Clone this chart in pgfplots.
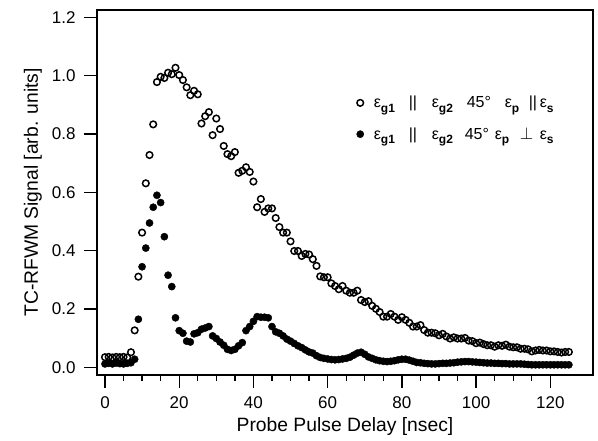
\documentclass[border=0pt]{standalone}
\usepackage{fontspec}
\setmainfont{Liberation Sans}
\usepackage{pgfplots}
\pgfplotsset{compat=1.18}
\usepackage{pgfplotstable}
\pgfplotstableread{
t v
0 0.035
1 0.036
2 0.034
3 0.036
4 0.035
5 0.036
6 0.034
7 0.052
8 0.127
9 0.311
10 0.462
11 0.631
12 0.728
13 0.833
14 0.978
15 0.996
16 0.992
17 1.010
18 1.005
19 1.027
20 1.002
21 0.985
22 0.960
23 0.933
24 0.948
25 0.936
26 0.836
27 0.861
28 0.875
29 0.796
30 0.853
31 0.817
32 0.759
33 0.731
34 0.724
35 0.738
36 0.667
37 0.674
38 0.686
39 0.670
40 0.637
41 0.549
42 0.577
43 0.533
44 0.545
45 0.545
46 0.512
47 0.481
48 0.462
49 0.462
50 0.432
51 0.399
52 0.399
53 0.382
54 0.389
55 0.387
56 0.371
57 0.348
58 0.312
59 0.309
60 0.309
61 0.288
62 0.279
63 0.268
64 0.279
65 0.263
66 0.256
67 0.256
68 0.263
69 0.231
70 0.224
71 0.227
72 0.211
73 0.201
74 0.190
75 0.174
76 0.174
77 0.183
78 0.174
79 0.163
80 0.172
81 0.163
82 0.153
83 0.140
84 0.140
85 0.145
86 0.128
87 0.119
88 0.119
89 0.117
90 0.110
91 0.115
92 0.106
93 0.099
94 0.103
95 0.099
96 0.099
97 0.101
98 0.092
99 0.090
100 0.083
101 0.085
102 0.080
103 0.076
104 0.076
105 0.071
106 0.076
107 0.074
108 0.078
109 0.071
110 0.069
111 0.069
112 0.064
113 0.064
114 0.062
115 0.055
116 0.058
117 0.060
118 0.058
119 0.058
120 0.055
121 0.055
122 0.053
123 0.051
124 0.053
125 0.053
}\parallel
\pgfplotstableread{
t v
0 0.012
1 0.014
2 0.012
3 0.015
4 0.013
5 0.012
6 0.014
7 0.016
8 0.028
9 0.165
10 0.345
11 0.409
12 0.495
13 0.549
14 0.590
15 0.565
16 0.448
17 0.316
18 0.277
19 0.170
20 0.126
21 0.117
22 0.090
23 0.087
24 0.115
25 0.119
26 0.131
27 0.135
28 0.140
29 0.108
30 0.099
31 0.087
32 0.076
33 0.062
34 0.058
35 0.062
36 0.074
37 0.085
38 0.126
39 0.140
40 0.158
41 0.174
42 0.172
43 0.172
44 0.170
45 0.140
46 0.122
47 0.117
48 0.108
49 0.097
50 0.090
51 0.082
52 0.074
53 0.068
54 0.060
55 0.053
56 0.049
57 0.040
58 0.034
59 0.031
60 0.029
61 0.027
62 0.026
63 0.027
64 0.029
65 0.031
66 0.035
67 0.042
68 0.049
69 0.052
70 0.045
71 0.036
72 0.031
73 0.026
74 0.023
75 0.021
76 0.020
77 0.021
78 0.023
79 0.026
80 0.028
81 0.028
82 0.025
83 0.021
84 0.017
85 0.016
86 0.014
87 0.013
88 0.012
89 0.012
90 0.013
91 0.014
92 0.014
93 0.015
94 0.016
95 0.018
96 0.019
97 0.020
98 0.020
99 0.019
100 0.018
101 0.017
102 0.016
103 0.015
104 0.015
105 0.014
106 0.014
107 0.013
108 0.013
109 0.012
110 0.012
111 0.012
112 0.012
113 0.011
114 0.010
115 0.009
116 0.009
117 0.009
118 0.009
119 0.009
120 0.009
121 0.009
122 0.009
123 0.009
124 0.009
125 0.009
}\perpendicular
\newcommand{\eps}[1]{ε\raisebox{-0.5ex}{\fontsize{12}{13}\selectfont\bfseries #1}}
\begin{document}
\begin{tikzpicture}
\begin{axis}[
  name=ax,
  scale only axis,
  width=496pt, height=365pt,
  xmin=-2.15, xmax=131.5,
  ymin=-0.026, ymax=1.225,
  axis line style={line width=1.3pt},
  every tick/.style={black, line width=1.3pt},
  tick align=outside,
  major tick length=13pt,
  minor tick length=6pt,
  xtick pos=bottom, ytick pos=left,
  xtick={0,20,...,120},
  minor x tick num=3,
  ytick={0,0.2,...,1.2},
  /pgf/number format/assume math mode=true,
  yticklabel style={xshift=-5pt, /pgf/number format/.cd, fixed, fixed zerofill, precision=1},
  xticklabel style={yshift=-5pt},
  ticklabel style={font=\fontsize{17}{19}\selectfont},
  xlabel={Probe Pulse Delay [nsec]},
  ylabel={TC-RFWM Signal [arb. units]},
  label style={font=\fontsize{19.3}{21}\selectfont},
  xlabel style={yshift=-2pt},
  ylabel style={yshift=3pt},
  legend cell align=left,
  legend style={draw=none, fill=none, at={(0.517,0.775)}, anchor=north west,
    font=\fontsize{16}{18}\selectfont, row sep=14pt},
]
\addplot[only marks, mark=o, mark size=3.3pt, line width=1.5pt] table[x=t,y=v] {\parallel};
\addlegendentry{\hspace*{8pt}\makebox[35pt][l]{\eps{g1}}\makebox[23pt][l]{||}\makebox[35pt][l]{\eps{g2}}\makebox[38pt][l]{45°}\makebox[24pt][l]{\eps{p}}\makebox[11pt][l]{||}\eps{s}}
\addplot[only marks, mark=*, mark size=3.6pt] table[x=t,y=v] {\perpendicular};
\addlegendentry{\hspace*{8pt}\makebox[35pt][l]{\eps{g1}}\makebox[23pt][l]{||}\makebox[33pt][l]{\eps{g2}}\makebox[30pt][l]{45°}\makebox[25pt][l]{\eps{p}}\makebox[20pt][l]{$\perp$}\eps{s}}
\end{axis}
\path ([xshift=-97pt,yshift=-66pt]ax.south west) rectangle ([xshift=5pt,yshift=10pt]ax.north east);
\end{tikzpicture}
\end{document}
